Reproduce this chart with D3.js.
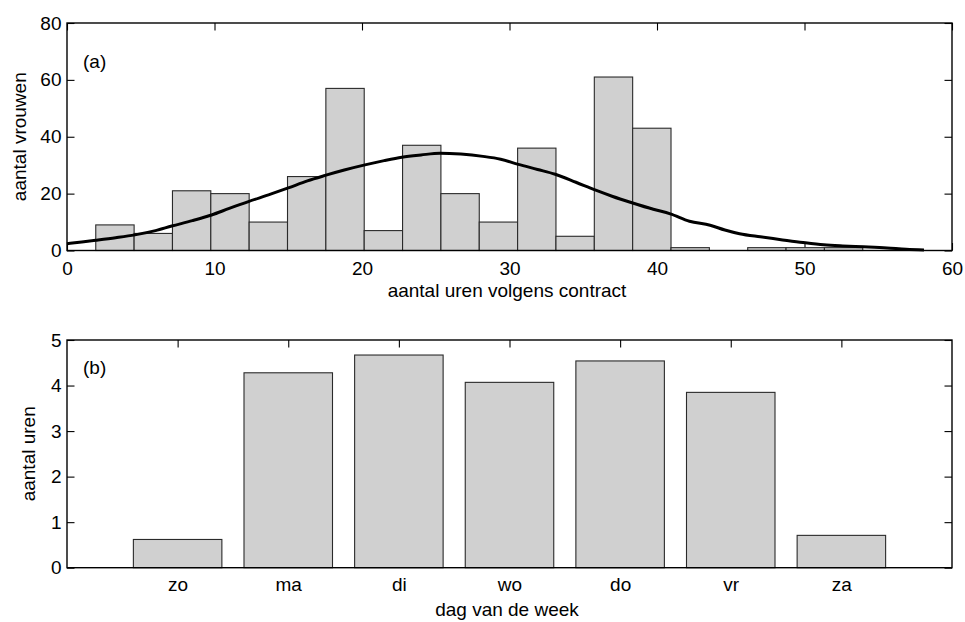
<!DOCTYPE html>
<html>
<head>
<meta charset="utf-8">
<script src="https://cdn.jsdelivr.net/npm/d3@7"></script>
<style>
  body { margin: 0; background: #fff; }
  svg text { font-family: "Liberation Sans", Arial, sans-serif; fill: #000; }
</style>
</head>
<body>
<svg id="chart" width="965" height="622"></svg>
<script>
// Panel (a): contracted hours per week, histogram of number of women
const hoursBinStart = 1.95;
const hoursBinWidth = 2.6;
const hoursCounts = [9, 6, 21, 20, 10, 26, 57, 7, 37, 20, 10, 36, 5, 61, 43, 1, 0, 1, 1, 1];
// Smoothed density overlay (scaled to counts)
const densityX = [0, 1.0, 1.95, 3.3, 4.6, 6.0, 7.1, 8.5, 9.8, 11.0, 12.3, 13.8, 15.0, 16.3, 17.5, 18.8,
  20.2, 21.5, 22.7, 24.0, 25.3, 26.7, 28.2, 29.4, 30.6, 31.9, 33.1, 34.5, 35.8, 37.0, 38.3, 39.75,
  40.9, 42.2, 43.6, 44.6, 45.6, 47.0, 48.3, 49.9, 51.3, 52.6, 54.0, 55.6, 56.9, 58.1];
const densityY = [2.4, 3.0, 3.6, 4.5, 5.5, 7.0, 8.6, 10.5, 12.5, 14.8, 17.2, 19.8, 22.0, 24.5, 26.4, 28.3,
  30.1, 31.6, 32.8, 33.6, 34.2, 33.9, 33.1, 32.1, 30.3, 28.5, 26.8, 24.0, 21.3, 19.0, 16.8, 14.5,
  12.9, 10.3, 8.9, 7.2, 5.9, 4.8, 3.9, 2.8, 2.0, 1.6, 1.3, 0.9, 0.4, 0.2];
const hoursTicksX = [0, 10, 20, 30, 40, 50, 60];
const hoursTicksY = [0, 20, 40, 60, 80];

// Panel (b): average hours worked per day of the week
const days = ["zo", "ma", "di", "wo", "do", "vr", "za"];
const dayHours = [0.62, 4.28, 4.67, 4.07, 4.54, 3.85, 0.71];
const dayTicksY = [0, 1, 2, 3, 4, 5];

const svg = d3.select("#chart");
const FONT = 19;
const TICK = 7.5;
const BAR_FILL = "#d0d0d0";
const BAR_STROKE = "#2a2a2a";

// Box-style axes: inward ticks on all four sides, labels left and bottom
function drawFrame(g, x, y, xTicks, yTicks, xFormat, xPad) {
  const [x0, x1] = x.range();
  const [y0, y1] = y.range();
  const ticks = g.append("g").attr("class", "ticks");
  ticks.append("g").attr("transform", `translate(0,${y0})`)
    .call(d3.axisBottom(x).tickValues(xTicks).tickSize(-TICK).tickSizeOuter(0).tickPadding(xPad).tickFormat(xFormat));
  ticks.append("g").attr("transform", `translate(0,${y1})`)
    .call(d3.axisTop(x).tickValues(xTicks).tickSize(-TICK).tickSizeOuter(0).tickFormat(""));
  ticks.append("g").attr("transform", `translate(${x0},0)`)
    .call(d3.axisLeft(y).tickValues(yTicks).tickSize(-TICK).tickSizeOuter(0).tickPadding(5.5).tickFormat(d3.format("d")));
  ticks.append("g").attr("transform", `translate(${x1},0)`)
    .call(d3.axisRight(y).tickValues(yTicks).tickSize(-TICK).tickSizeOuter(0).tickFormat(""));
  ticks.selectAll(".domain").remove();
  ticks.selectAll(".tick line").attr("stroke", "#000").attr("stroke-width", 1.1);
  ticks.selectAll(".tick text").attr("font-size", FONT).attr("fill", "#000")
    .style("font-family", '"Liberation Sans", Arial, sans-serif');
  return ticks;
}

function drawBox(g, x, y) {
  const [x0, x1] = x.range();
  const [y0, y1] = y.range();
  g.append("rect")
    .attr("x", x0).attr("y", y1)
    .attr("width", x1 - x0).attr("height", y0 - y1)
    .attr("fill", "none").attr("stroke", "#000").attr("stroke-width", 1.4);
}

// ---------- Panel (a) ----------
{
  const g = svg.append("g");
  const x = d3.scaleLinear().domain([0, 60]).range([67, 952]);
  const y = d3.scaleLinear().domain([0, 80]).range([250.5, 23]);

  drawFrame(g, x, y, hoursTicksX, hoursTicksY, d3.format("d"), 11);

  const bins = hoursCounts.map((c, i) => ({
    x0: hoursBinStart + i * hoursBinWidth,
    x1: hoursBinStart + (i + 1) * hoursBinWidth,
    n: c
  })).filter(d => d.n > 0);

  g.append("g").selectAll("rect").data(bins).join("rect")
    .attr("x", d => x(d.x0))
    .attr("width", d => x(d.x1) - x(d.x0))
    .attr("y", d => y(d.n))
    .attr("height", d => y(0) - y(d.n))
    .attr("fill", BAR_FILL)
    .attr("stroke", BAR_STROKE)
    .attr("stroke-width", 1.1);

  const line = d3.line()
    .x((d, i) => x(densityX[i]))
    .y(d => y(d))
    .curve(d3.curveMonotoneX);
  g.append("path")
    .datum(densityY)
    .attr("d", line)
    .attr("fill", "none")
    .attr("stroke", "#000")
    .attr("stroke-width", 3)
    .attr("stroke-linejoin", "round");

  drawBox(g, x, y);

  g.append("text").attr("x", 83).attr("y", 68).attr("font-size", FONT).text("(a)");
  g.append("text").attr("x", 507).attr("y", 297).attr("text-anchor", "middle")
    .attr("font-size", FONT).text("aantal uren volgens contract");
  g.append("text").attr("transform", "translate(26,136.7) rotate(-90)")
    .attr("text-anchor", "middle").attr("font-size", FONT).text("aantal vrouwen");
}

// ---------- Panel (b) ----------
{
  const g = svg.append("g");
  const x = d3.scaleLinear().domain([0, days.length + 1]).range([67, 952]);
  const y = d3.scaleLinear().domain([0, 5]).range([567.7, 340]);
  const dayPos = days.map((d, i) => i + 1);
  const barWidth = 0.8;

  drawFrame(g, x, y, dayPos, dayTicksY, v => days[v - 1], 10);

  g.append("g").selectAll("rect").data(dayHours).join("rect")
    .attr("x", (d, i) => x(dayPos[i] - barWidth / 2))
    .attr("width", x(barWidth) - x(0))
    .attr("y", d => y(d))
    .attr("height", d => y(0) - y(d))
    .attr("fill", BAR_FILL)
    .attr("stroke", BAR_STROKE)
    .attr("stroke-width", 1.1);

  drawBox(g, x, y);

  g.append("text").attr("x", 83).attr("y", 374).attr("font-size", FONT).text("(b)");
  g.append("text").attr("x", 507).attr("y", 616).attr("text-anchor", "middle")
    .attr("font-size", FONT).text("dag van de week");
  g.append("text").attr("transform", "translate(35,453.8) rotate(-90)")
    .attr("text-anchor", "middle").attr("font-size", FONT).text("aantal uren");
}
</script>
</body>
</html>
